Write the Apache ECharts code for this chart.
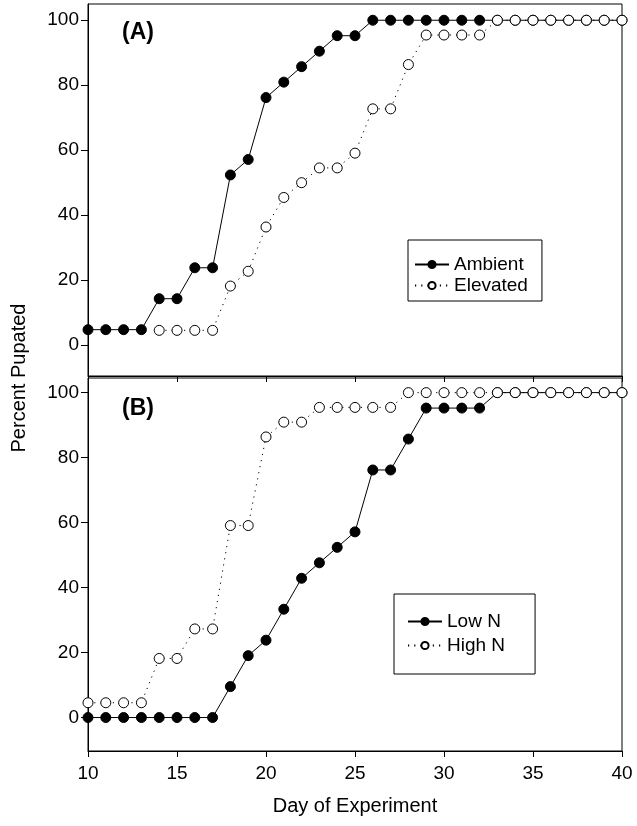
<!DOCTYPE html>
<html>
<head>
<meta charset="utf-8">
<script src="https://cdn.jsdelivr.net/npm/echarts@6/dist/echarts.min.js"></script>
<style>
  html, body { margin: 0; padding: 0; background: #fff; }
  #main { width: 637px; height: 826px; }
</style>
</head>
<body>
<div id="main"></div>
<script>
// days on the x axis
var days = [10, 11, 12, 13, 14, 15, 16, 17, 18, 19, 20, 21, 22, 23, 24, 25, 26, 27, 28, 29, 30, 31, 32, 33, 34, 35, 36, 37, 38, 39, 40];
var daysElevated = [14, 15, 16, 17, 18, 19, 20, 21, 22, 23, 24, 25, 26, 27, 28, 29, 30, 31, 32, 33, 34, 35, 36, 37, 38, 39, 40];

// panel A
var ambient = [4.76, 4.76, 4.76, 4.76, 14.29, 14.29, 23.81, 23.81, 52.38, 57.14, 76.19, 80.95, 85.71, 90.48, 95.24, 95.24, 100, 100, 100, 100, 100, 100, 100, 100, 100, 100, 100, 100, 100, 100, 100];
var elevated = [4.55, 4.55, 4.55, 4.55, 18.18, 22.73, 36.36, 45.45, 50.0, 54.55, 54.55, 59.09, 72.73, 72.73, 86.36, 95.45, 95.45, 95.45, 95.45, 100, 100, 100, 100, 100, 100, 100, 100];

// panel B
var lowN = [0, 0, 0, 0, 0, 0, 0, 0, 9.52, 19.05, 23.81, 33.33, 42.86, 47.62, 52.38, 57.14, 76.19, 76.19, 85.71, 95.24, 95.24, 95.24, 95.24, 100, 100, 100, 100, 100, 100, 100, 100];
var highN = [4.55, 4.55, 4.55, 4.55, 18.18, 18.18, 27.27, 27.27, 59.09, 59.09, 86.36, 90.91, 90.91, 95.45, 95.45, 95.45, 95.45, 95.45, 100, 100, 100, 100, 100, 100, 100, 100, 100, 100, 100, 100, 100];

var yTicks = [0, 20, 40, 60, 80, 100];

function pairs(xs, ys) {
  return xs.map(function (x, i) { return [x, ys[i]]; });
}

var font = "Liberation Sans, Arial, sans-serif";

function xAxisFor(gridIndex, showLabels) {
  return {
    type: "value",
    gridIndex: gridIndex,
    min: 10,
    max: 40,
    interval: 5,
    splitLine: { show: false },
    axisLine: { onZero: false, lineStyle: { color: "#000", width: 1 } },
    axisTick: { show: true, length: 6, inside: false, lineStyle: { color: "#000" } },
    axisLabel: { show: showLabels, color: "#000", fontSize: 19, fontFamily: font, margin: 13 },
    name: showLabels ? "Day of Experiment" : "",
    nameLocation: "middle",
    nameGap: 45,
    nameTextStyle: { color: "#000", fontSize: 20, fontFamily: font }
  };
}

function yAxisFor(gridIndex, min, max) {
  return {
    type: "value",
    gridIndex: gridIndex,
    min: min,
    max: max,
    splitLine: { show: false },
    axisLine: { onZero: false, lineStyle: { color: "#000", width: 1 } },
    axisTick: { show: true, length: 7, customValues: yTicks, lineStyle: { color: "#000" } },
    axisLabel: { color: "#000", fontSize: 19, fontFamily: font, margin: 9, customValues: yTicks }
  };
}

function filledSeries(name, idx, data) {
  return {
    name: name,
    type: "line",
    xAxisIndex: idx,
    yAxisIndex: idx,
    data: data,
    symbol: "circle",
    symbolSize: 10,
    showAllSymbol: true,
    lineStyle: { color: "#000", width: 1 },
    itemStyle: { color: "#000", borderColor: "#000", borderWidth: 1 },
    emphasis: { disabled: true }
  };
}

function openSeries(name, idx, data) {
  return {
    name: name,
    type: "line",
    xAxisIndex: idx,
    yAxisIndex: idx,
    data: data,
    symbol: "circle",
    symbolSize: 10,
    showAllSymbol: true,
    lineStyle: { color: "#000", width: 1, type: [1.2, 5] },
    itemStyle: { color: "#fff", borderColor: "#000", borderWidth: 1 },
    emphasis: { disabled: true }
  };
}

function legendFor(names, left, top, padding, gap) {
  return {
    data: names,
    orient: "vertical",
    left: left,
    top: top,
    padding: padding,
    itemGap: gap,
    itemWidth: 34,
    itemHeight: 9,
    borderColor: "#000",
    borderWidth: 1,
    backgroundColor: "#fff",
    textStyle: { color: "#000", fontSize: 19, fontFamily: font },
    selectedMode: false
  };
}

var chart = echarts.init(document.getElementById("main"));
chart.setOption({
  animation: false,
  backgroundColor: "#fff",
  grid: [
    { left: 88, right: 15, top: 4, height: 372, show: true, borderColor: "#000", borderWidth: 1 },
    { left: 88, right: 15, top: 378, height: 373, show: true, borderColor: "#000", borderWidth: 1 }
  ],
  xAxis: [xAxisFor(0, false), xAxisFor(1, true)],
  yAxis: [yAxisFor(0, -9.5, 105), yAxisFor(1, -10.3, 104.5)],
  title: [
    { text: "(A)", left: 122, top: 21, padding: 0, textStyle: { color: "#000", fontSize: 23, fontWeight: "bold", fontFamily: font } },
    { text: "(B)", left: 122, top: 397, padding: 0, textStyle: { color: "#000", fontSize: 23, fontWeight: "bold", fontFamily: font } }
  ],
  legend: [
    legendFor(["Ambient", "Elevated"], 408, 240, [15, 14, 6, 6], 2),
    legendFor(["Low N", "High N"], 394, 594, [18, 30, 19, 13], 5)
  ],
  graphic: [
    {
      type: "text",
      x: 19,
      y: 378,
      rotation: Math.PI / 2,
      style: { text: "Percent Pupated", fill: "#000", fontSize: 20, fontFamily: font, textAlign: "center", textVerticalAlign: "middle" }
    }
  ],
  series: [
    filledSeries("Ambient", 0, pairs(days, ambient)),
    openSeries("Elevated", 0, pairs(daysElevated, elevated)),
    filledSeries("Low N", 1, pairs(days, lowN)),
    openSeries("High N", 1, pairs(days, highN))
  ]
});
</script>
</body>
</html>
